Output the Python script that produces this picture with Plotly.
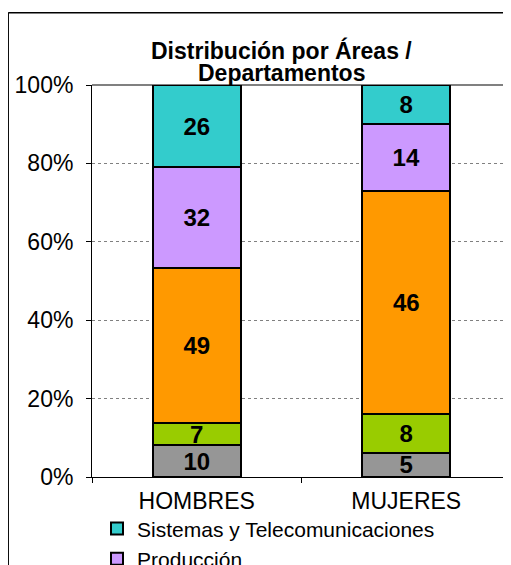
import plotly.graph_objects as go

categorias = ["HOMBRES", "MUJERES"]
areas = ["Administración", "Comercial", "Operaciones", "Producción", "Sistemas y Telecomunicaciones"]
colores = ["#969696", "#99CC00", "#FF9900", "#CC99FF", "#33CCCC"]
administracion = [10, 5]
comercial = [7, 8]
operaciones = [49, 46]
produccion = [32, 14]
sistemas = [26, 8]
series = [administracion, comercial, operaciones, produccion, sistemas]

fuente = "Liberation Sans, Arial"

fig = go.Figure()
for nombre, valores, color in zip(areas, series, colores):
    fig.add_trace(go.Bar(
        x=categorias,
        y=valores,
        name=nombre,
        text=valores,
        texttemplate="<b>%{text}</b>",
        textposition="inside",
        insidetextanchor="middle",
        textangle=0,
        constraintext="none",
        textfont=dict(size=24, color="black", family=fuente),
        marker=dict(color=color, line=dict(color="black", width=2)),
        width=0.42,
        showlegend=nombre in ("Producción", "Sistemas y Telecomunicaciones"),
    ))

fig.update_layout(
    barmode="stack",
    barnorm="percent",
    width=503,
    height=557,
    margin=dict(l=84, r=0, t=77, b=88, autoexpand=False),
    paper_bgcolor="white",
    plot_bgcolor="white",
    font=dict(family=fuente, size=23, color="black"),
    legend=dict(
        traceorder="reversed",
        x=0.012, xanchor="left", y=-0.08, yanchor="top",
        font=dict(size=21), itemwidth=30, tracegroupgap=0,
        bgcolor="rgba(0,0,0,0)",
    ),
    xaxis=dict(
        showline=True, linecolor="black", linewidth=1,
        ticks="outside", tickson="boundaries", ticklen=5, tickcolor="black",
        tickfont=dict(size=23), ticklabelstandoff=3,
    ),
    yaxis=dict(
        range=[0, 100], dtick=20, ticksuffix="%",
        showline=True, linecolor="black", linewidth=1,
        ticks="outside", ticklen=5, tickcolor="black",
        showgrid=True, gridcolor="#808080", griddash="dot", gridwidth=1,
        tickfont=dict(size=23), ticklabelstandoff=8,
    ),
    annotations=[
        dict(text="<b>Distribución por Áreas /</b>", xref="paper", yref="paper",
             x=0.452, y=1.089, xanchor="center", yanchor="middle",
             showarrow=False, font=dict(size=23)),
        dict(text="<b>Departamentos</b>", xref="paper", yref="paper",
             x=0.452, y=1.031, xanchor="center", yanchor="middle",
             showarrow=False, font=dict(size=23)),
    ],
    shapes=[
        dict(type="line", xref="paper", yref="paper", x0=0, x1=1, y0=1, y1=1,
             line=dict(color="#808080", width=2), layer="below"),
        # marco exterior del gráfico (lados izquierdo y superior)
        dict(type="line", xref="paper", yref="paper",
             x0=-0.2, x1=-0.2, y0=-0.4, y1=1.184,
             line=dict(color="black", width=1.5), layer="above"),
        dict(type="line", xref="paper", yref="paper",
             x0=-0.2, x1=1.5, y0=1.184, y1=1.184,
             line=dict(color="black", width=1.5), layer="above"),
    ],
)

fig.write_html("out.html")
